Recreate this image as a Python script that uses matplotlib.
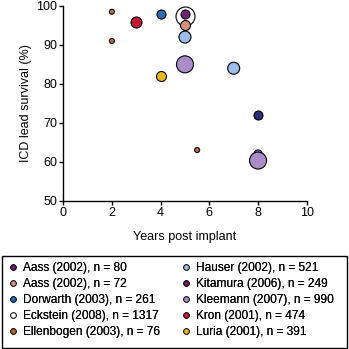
import matplotlib
matplotlib.use('Agg')
import matplotlib.pyplot as plt
from matplotlib.lines import Line2D
from matplotlib.patches import Rectangle

plt.rcParams['font.family'] = ['Liberation Sans', 'DejaVu Sans']

# study labels, plot colours, legend colours
studies = [
    'Aass (2002), n = 80', 'Aass (2002), n = 72', 'Dorwarth (2003), n = 261',
    'Eckstein (2008), n = 1317', 'Ellenbogen (2003), n = 76',
    'Hauser (2002), n = 521', 'Kitamura (2006), n = 249',
    'Kleemann (2007), n = 990', 'Kron (2001), n = 474', 'Luria (2001), n = 391',
]
colors = ['#741f78', '#d9907e', '#2a6db2', '#ffffff', '#c06f38',
          '#9dbde8', '#2e2a7a', '#a98cc8', '#c41a36', '#e8b820']
legend_colors = ['#6a1f6e', '#d09090', '#2b6cb0', '#ffffff', '#b5652f',
                 '#a8c0e0', '#6b1f5f', '#a98cc8', '#c0203a', '#e8b820']

# years post implant, lead survival (%), marker diameter (px) per study
years = [[5], [5], [4], [5], [2, 2, 5.5], [5, 7], [8], [8, 5, 8], [3], [4]]
survival = [[98], [95], [98], [97.5], [98.5, 91, 63], [92, 84], [72],
            [62, 85, 60.3], [96], [82]]
diam_px = [[9], [10], [9], [19], [5, 5, 5], [12, 12], [9], [8, 17, 17], [11], [10]]

# draw order (back to front)
order = [3, 0, 1, 5, 2, 4, 6, 7, 8, 9]

fig = plt.figure(figsize=(3.49, 3.49), dpi=100)
ax = fig.add_axes([0.181, 0.425, 0.698, 0.558])

for i in order:
    sizes = [(d * 0.72) ** 2 for d in diam_px[i]]
    ax.scatter(years[i], survival[i], s=sizes, c=colors[i], edgecolors='black',
               linewidths=0.8, clip_on=False, zorder=3)

ax.set_xlim(0, 10)
ax.set_ylim(50, 100)
ax.set_xticks(range(0, 11, 2))
ax.set_yticks(range(50, 101, 10))
for side in ['top', 'right']:
    ax.spines[side].set_visible(False)
for side in ['left', 'bottom']:
    ax.spines[side].set_linewidth(1.0)
ax.tick_params(direction='out', length=3, width=1, labelsize=9, pad=1.5)
ax.set_xlabel('Years post implant', fontsize=9, labelpad=9)
ax.set_ylabel('ICD lead survival (%)', fontsize=9, labelpad=3)

# legend box
W = H = 349.0
fig.add_artist(Rectangle((1.5 / W, 1 - 347.5 / H), 345.5 / W, 92 / H,
                         transform=fig.transFigure, facecolor='none',
                         edgecolor='black', linewidth=1.0))

handles = [Line2D([], [], marker='o', linestyle='none', markersize=4,
                  markerfacecolor=c, markeredgecolor='black', markeredgewidth=0.6)
           for c in legend_colors]

# two columns placed separately
for col, x0 in enumerate([9.4, 182.9]):
    sl = slice(col * 5, col * 5 + 5)
    leg = fig.legend(handles[sl], studies[sl], loc='upper left',
                     bbox_to_anchor=(x0 / W, 1 - 262.5 / H),
                     borderaxespad=0, borderpad=0, fontsize=8.6, frameon=False,
                     handlelength=0.6, handletextpad=0.5, labelspacing=0.33)
    fig.add_artist(leg)

fig.savefig('out.png', dpi=100)
